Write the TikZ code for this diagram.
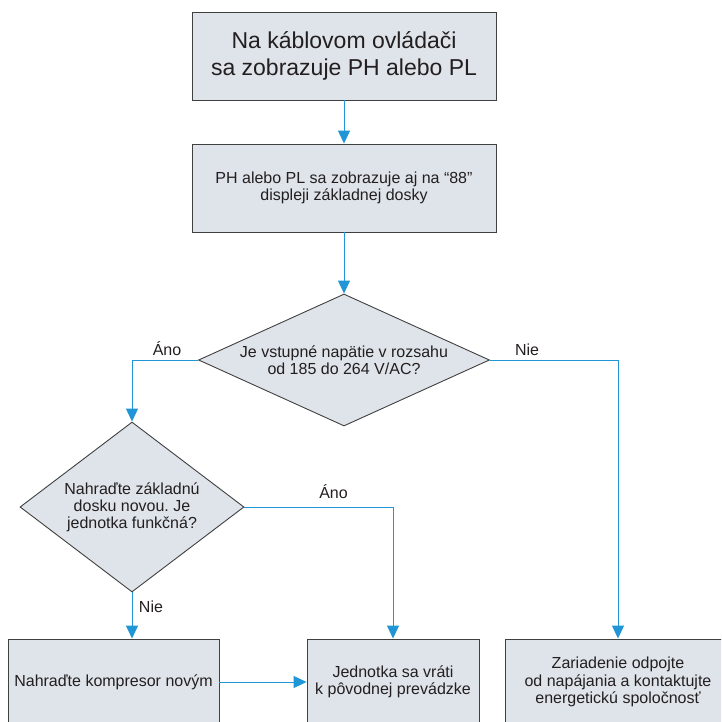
\documentclass[tikz,border=0pt]{standalone}
\usepackage{fontspec}
\setmainfont{Liberation Sans}
\frenchspacing
\usetikzlibrary{shapes.geometric,arrows.meta}
\definecolor{boxfill}{HTML}{DFE4EA}
\definecolor{boxline}{HTML}{404040}
\definecolor{flow}{HTML}{2196D6}
\definecolor{ink}{HTML}{231F20}
\tikzset{
  stepbox/.style={draw=boxline,fill=boxfill,line width=0.9pt,rectangle,inner sep=0pt,
    align=center,text=ink,font=\fontsize{16}{17.5}\selectfont},
  bigbox/.style={stepbox,font=\fontsize{23}{27.5}\selectfont},
  decision/.style={draw=boxline,fill=boxfill,line width=0.9pt,diamond,inner sep=0pt},
  qtext/.style={align=center,text=ink,inner sep=0pt,font=\fontsize{16}{17}\selectfont},
  flowline/.style={draw=flow,line width=1pt,-{Triangle[width=12pt,length=13pt]}},
  tag/.style={text=ink,font=\fontsize{16}{17}\selectfont,anchor=base,inner sep=0pt}
}
\begin{document}
\begin{tikzpicture}[x=1pt,y=-1pt]
\useasboundingbox (0,0) rectangle (721,722);
\clip (0,0) rectangle (721,722);

% process boxes
\node[bigbox,minimum width=304pt,minimum height=88pt] (start) at (344,56)
  {Na káblovom ovládači\\sa zobrazuje PH alebo PL};
\node[stepbox,minimum width=304pt,minimum height=88pt] (board) at (344,188)
  {PH alebo PL sa zobrazuje aj na “88”\\displeji základnej dosky};

% decisions: the diamond outline, then its question on top
\node[decision,minimum width=291pt,minimum height=132pt] (volt) at (344,360) {};
\node[qtext] (voltq) at (volt.center)
  {Je vstupné napätie v rozsahu\\od 185 do 264 V/AC?};
\node[decision,minimum width=224pt,minimum height=170pt] (replace) at (132,507) {};
\node[qtext] (replaceq) at (replace.center)
  {Nahraďte základnú\\dosku novou. Je\\jednotka funkčná?};

% final boxes (run past the lower edge)
\node[stepbox,minimum width=211pt,minimum height=86pt] (comp) at (113.5,682)
  {Nahraďte kompresor novým};
\node[stepbox,minimum width=172pt,minimum height=86pt] (ok) at (393,682)
  {Jednotka sa vráti\\k pôvodnej prevádzke};
\node[stepbox,minimum width=226pt,minimum height=86pt] (power) at (618,682)
  {Zariadenie odpojte\\od napájania a kontaktujte\\energetickú spoločnosť};

% connectors
\draw[flowline] (start) -- (board);
\draw[flowline] (board) -- (volt);
\draw[flowline] (volt.west) -| (replace.north);
\draw[flowline] (volt.east) -| (power.north);
\draw[flowline] (replace.east) -| (ok.north);
\draw[flowline] (replace.south) -- (replace.south |- comp.north);
\draw[flowline] (comp.east) -- (ok.west);

% branch labels
\node[tag] (yes1) at (167,355) {Áno};
\node[tag] (no1) at (527,355) {Nie};
\node[tag] (yes2) at (333.5,498) {Áno};
\node[tag] (no2) at (151,612) {Nie};
\end{tikzpicture}
\end{document}
